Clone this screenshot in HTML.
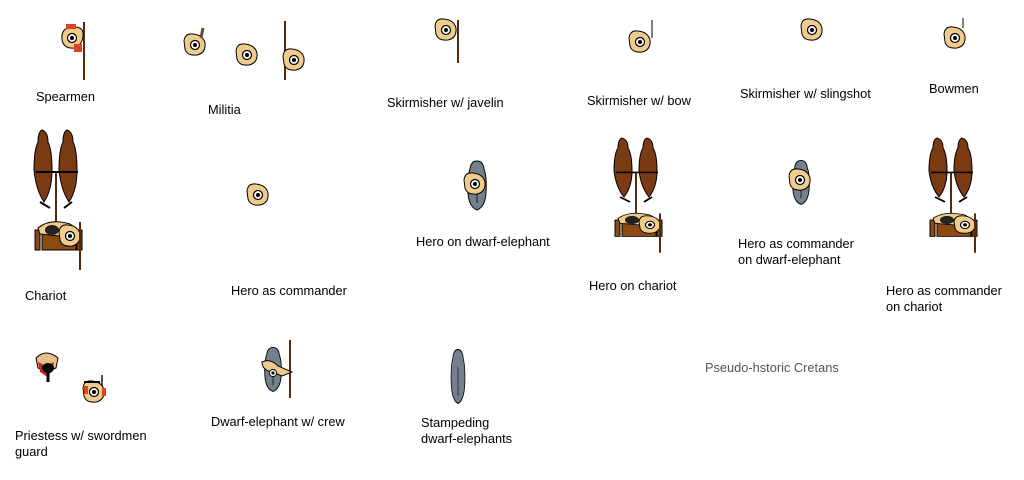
<!DOCTYPE html>
<html><head><meta charset="utf-8"><style>
html,body{margin:0;padding:0;background:#fff;}
#c{position:relative;width:1024px;height:480px;overflow:hidden;font-family:"Liberation Sans",sans-serif;font-size:12.8px;color:#000;}
.t{position:absolute;line-height:16px;white-space:nowrap;}
svg{position:absolute;left:0;top:0;}
</style></head><body><div id="c">
<svg width="1024" height="480" viewBox="0 0 1024 480">
<defs>
<g id="man"><path d="M-11,-4 Q-10,-12 -2,-11 Q8,-10 10,-2 Q11,8 2,10 Q-8,11 -10,4 Z" fill="#f0cc8c" stroke="#000" stroke-width="1"/><circle r="4.5" fill="#fff" stroke="#000" stroke-width="1.2"/><circle r="2" fill="#000"/></g>
<g id="eleph"><path d="M0,-24 Q6,-24 7,-16 Q10,-8 9,8 Q8,22 0,25 Q-8,22 -9,8 Q-10,-8 -7,-16 Q-6,-24 0,-24Z" fill="#75808e" stroke="#000" stroke-width="1"/><path d="M0,-8 L0,18" stroke="#000" stroke-width="0.8"/></g>
<g id="chariot">
<path d="M12,0 Q18,2 18,12 Q22,20 22,40 Q22,60 14,72 Q6,60 4,40 Q4,20 8,12 Q8,2 12,0Z" fill="#7a3a12" stroke="#000"/>
<path d="M37,0 Q43,2 43,12 Q47,20 47,40 Q47,60 39,72 Q31,60 29,40 Q29,20 33,12 Q33,2 37,0Z" fill="#7a3a12" stroke="#000"/>
<line x1="6" y1="42" x2="48" y2="42" stroke="#000" stroke-width="2"/>
<line x1="26" y1="42" x2="26" y2="100" stroke="#5a2a08" stroke-width="2"/>
<path d="M10,72 L20,78 M34,78 L42,72" stroke="#000" stroke-width="2"/>
<rect x="12" y="98" width="34" height="22" fill="#8a4a12" stroke="#000"/>
<rect x="5" y="100" width="5" height="20" fill="#8a4a12" stroke="#000"/>
<rect x="47" y="100" width="5" height="20" fill="#8a4a12" stroke="#000"/>
<path d="M8,98 Q20,88 40,94 Q50,100 48,108 Q30,106 10,104Z" fill="#f0cc8c" stroke="#000"/>
<ellipse cx="22" cy="100" rx="7" ry="5" fill="#222"/>
<g transform="translate(40,106)"><use href="#man"/></g>
<line x1="50" y1="92" x2="50" y2="140" stroke="#5a2a08" stroke-width="2"/>
</g>
</defs>
<line x1="84" y1="22" x2="84" y2="80" stroke="#5a2a08" stroke-width="2"/>
<g transform="translate(72,38) rotate(90)"><use href="#man"/></g>
<rect x="66" y="24" width="10" height="5" fill="#d42" /><rect x="74" y="44" width="8" height="8" fill="#d42"/>
<g transform="translate(195,45)"><use href="#man"/></g><line x1="203" y1="28" x2="201" y2="38" stroke="#6a4a2a" stroke-width="3"/>
<g transform="translate(247,55)"><use href="#man"/></g>
<line x1="285" y1="21" x2="285" y2="80" stroke="#5a2a08" stroke-width="2"/>
<g transform="translate(294,60)"><use href="#man"/></g>
<line x1="458" y1="20" x2="458" y2="63" stroke="#5a2a08" stroke-width="2"/>
<g transform="translate(446,30)"><use href="#man"/></g>
<line x1="652" y1="20" x2="652" y2="38" stroke="#000" stroke-width="1"/>
<g transform="translate(640,42)"><use href="#man"/></g>
<g transform="translate(812,30)"><use href="#man"/></g>
<line x1="963" y1="18" x2="963" y2="28" stroke="#000" stroke-width="1"/>
<g transform="translate(955,38)"><use href="#man"/></g>
<g transform="translate(30,130)"><use href="#chariot"/></g>
<g transform="translate(610,138) scale(1,0.82)"><use href="#chariot"/></g>
<g transform="translate(925,138) scale(1,0.82)"><use href="#chariot"/></g>
<g transform="translate(258,195)"><use href="#man"/></g>
<g transform="translate(477,185)"><use href="#eleph"/></g>
<g transform="translate(475,184)"><use href="#man"/></g>
<g transform="translate(801,182) scale(0.9,0.9)"><use href="#eleph"/></g>
<g transform="translate(800,180)"><use href="#man"/></g>
<path d="M36,358 Q46,348 58,358 L56,368 Q47,372 38,368Z" fill="#e8c08c" stroke="#000"/>
<path d="M38,362 L46,366 L54,362 L52,372 L46,376 L40,372Z" fill="#d02020"/>
<ellipse cx="48" cy="368" rx="6" ry="5" fill="#000"/>
<line x1="48" y1="372" x2="48" y2="382" stroke="#000" stroke-width="3"/>
<line x1="102" y1="375" x2="102" y2="392" stroke="#555" stroke-width="2"/>
<g transform="translate(94,392)"><use href="#man"/></g>
<path d="M84,382 L100,382" stroke="#000" stroke-width="2"/>
<rect x="84" y="386" width="4" height="8" fill="#d42"/><rect x="102" y="388" width="4" height="8" fill="#d42"/>
<g transform="translate(273,369) scale(0.9,0.9)"><use href="#eleph"/></g>
<line x1="290" y1="340" x2="290" y2="398" stroke="#5a2a08" stroke-width="2"/>
<path d="M262,362 Q270,358 278,366 L292,372 L282,376 L272,372 Q262,370 262,362Z" fill="#f0cc8c" stroke="#000"/>
<g transform="translate(273,373) scale(0.8)"><circle r="4.5" fill="#fff" stroke="#000" stroke-width="1.2"/><circle r="2" fill="#000"/></g>
<g transform="translate(458,376) scale(0.75,1.1)"><use href="#eleph"/></g>
</svg>
<div class="t" style="left:36px;top:89px">Spearmen</div>
<div class="t" style="left:208px;top:102px">Militia</div>
<div class="t" style="left:387px;top:95px">Skirmisher w/ javelin</div>
<div class="t" style="left:587px;top:93px">Skirmisher w/ bow</div>
<div class="t" style="left:740px;top:86px">Skirmisher w/ slingshot</div>
<div class="t" style="left:929px;top:81px">Bowmen</div>
<div class="t" style="left:25px;top:288px">Chariot</div>
<div class="t" style="left:231px;top:283px">Hero as commander</div>
<div class="t" style="left:416px;top:234px">Hero on dwarf-elephant</div>
<div class="t" style="left:589px;top:278px">Hero on chariot</div>
<div class="t" style="left:738px;top:236px">Hero as commander<br>on dwarf-elephant</div>
<div class="t" style="left:886px;top:283px">Hero as commander<br>on chariot</div>
<div class="t" style="left:15px;top:428px">Priestess w/ swordmen<br>guard</div>
<div class="t" style="left:211px;top:414px">Dwarf-elephant w/ crew</div>
<div class="t" style="left:421px;top:415px">Stampeding<br>dwarf-elephants</div>
<div class="t" style="left:705px;top:360px;color:#555">Pseudo-hstoric Cretans</div>
</div></body></html>
